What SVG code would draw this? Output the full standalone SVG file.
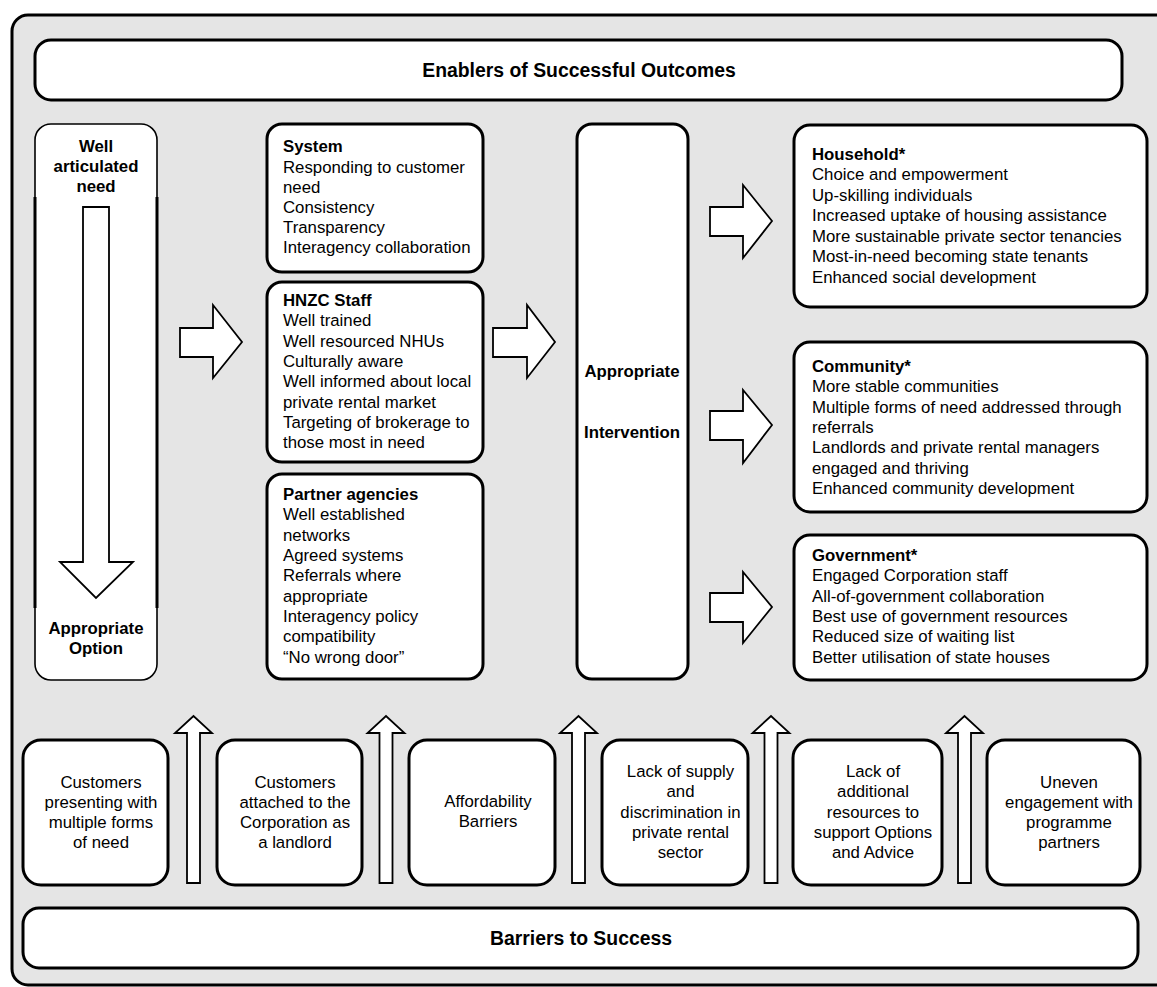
<svg xmlns="http://www.w3.org/2000/svg" width="1157" height="987" viewBox="0 0 1157 987">
<style>
.box{fill:#fff;stroke:#000;stroke-width:3}
.thin{fill:#fff;stroke:#000;stroke-width:1.6}
.arr{fill:#fff;stroke:#000;stroke-width:1.8;stroke-linejoin:miter}
text{font-family:"Liberation Sans",Arial,sans-serif;font-size:16.8px;fill:#000}
.b{font-weight:bold}
.h{font-weight:bold;font-size:19.4px}
.c{text-anchor:middle}
</style>
<rect x="12" y="15" width="1160" height="970" rx="16" fill="#e5e5e5" stroke="#000" stroke-width="3"/>
<g id="enablers"><rect class="box" x="35" y="40" width="1087" height="60" rx="16"/><text class="h c" x="579" y="77">Enablers of Successful Outcomes</text></g>
<g id="barriers"><rect class="box" x="23" y="908" width="1115" height="60" rx="16"/><text class="h c" x="581" y="945">Barriers to Success</text></g>
<g id="need-option">
<rect class="thin" x="35" y="124" width="122" height="556" rx="16"/>
<line x1="35" y1="197" x2="35" y2="608" stroke="#000" stroke-width="3"/>
<line x1="157" y1="197" x2="157" y2="608" stroke="#000" stroke-width="3"/>
<text class="b c" x="96" y="152">Well</text>
<text class="b c" x="96" y="172">articulated</text>
<text class="b c" x="96" y="192">need</text>
<text class="b c" x="96" y="634">Appropriate</text>
<text class="b c" x="96" y="654">Option</text>
</g>
<g id="system"><rect class="box" x="267" y="124" width="216" height="148" rx="15"/>
<text x="283" y="152" class="b">System</text>
<text x="283" y="173">Responding to customer</text>
<text x="283" y="193">need</text>
<text x="283" y="213">Consistency</text>
<text x="283" y="233">Transparency</text>
<text x="283" y="253">Interagency collaboration</text></g>
<g id="hnzc"><rect class="box" x="267" y="282" width="216" height="180" rx="15"/>
<text x="283" y="306" class="b">HNZC Staff</text>
<text x="283" y="326">Well trained</text>
<text x="283" y="347">Well resourced NHUs</text>
<text x="283" y="367">Culturally aware</text>
<text x="283" y="387">Well informed about local</text>
<text x="283" y="408">private rental market</text>
<text x="283" y="428">Targeting of brokerage to</text>
<text x="283" y="448">those most in need</text></g>
<g id="partners"><rect class="box" x="267" y="474" width="216" height="205" rx="15"/>
<text x="283" y="500" class="b">Partner agencies</text>
<text x="283" y="520">Well established</text>
<text x="283" y="541">networks</text>
<text x="283" y="561">Agreed systems</text>
<text x="283" y="581">Referrals where</text>
<text x="283" y="602">appropriate</text>
<text x="283" y="622">Interagency policy</text>
<text x="283" y="642">compatibility</text>
<text x="283" y="663">“No wrong door”</text></g>
<g id="intervention"><rect class="box" x="577" y="124" width="111" height="555" rx="15"/>
<text class="b c" x="632" y="377">Appropriate</text>
<text class="b c" x="632" y="438">Intervention</text></g>
<g id="household"><rect class="box" x="794" y="125" width="353" height="182" rx="16"/>
<text x="812" y="160" class="b">Household*</text>
<text x="812" y="180">Choice and empowerment</text>
<text x="812" y="201">Up-skilling individuals</text>
<text x="812" y="221">Increased uptake of housing assistance</text>
<text x="812" y="242">More sustainable private sector tenancies</text>
<text x="812" y="262">Most-in-need becoming state tenants</text>
<text x="812" y="283">Enhanced social development</text></g>
<g id="community"><rect class="box" x="794" y="342" width="353" height="170" rx="16"/>
<text x="812" y="372" class="b">Community*</text>
<text x="812" y="392">More stable communities</text>
<text x="812" y="413">Multiple forms of need addressed through</text>
<text x="812" y="433">referrals</text>
<text x="812" y="453">Landlords and private rental managers</text>
<text x="812" y="474">engaged and thriving</text>
<text x="812" y="494">Enhanced community development</text></g>
<g id="government"><rect class="box" x="794" y="535" width="353" height="145" rx="16"/>
<text x="812" y="561" class="b">Government*</text>
<text x="812" y="581">Engaged Corporation staff</text>
<text x="812" y="602">All-of-government collaboration</text>
<text x="812" y="622">Best use of government resources</text>
<text x="812" y="642">Reduced size of waiting list</text>
<text x="812" y="663">Better utilisation of state houses</text></g>
<g id="b1"><rect class="box" x="23" y="740" width="145" height="145" rx="18"/>
<text class="c" x="101" y="788">Customers</text><text class="c" x="101" y="808">presenting with</text><text class="c" x="101" y="828">multiple forms</text><text class="c" x="101" y="848">of need</text></g>
<g id="b2"><rect class="box" x="217" y="740" width="145" height="145" rx="18"/>
<text class="c" x="295" y="788">Customers</text><text class="c" x="295" y="808">attached to the</text><text class="c" x="295" y="828">Corporation as</text><text class="c" x="295" y="848">a landlord</text></g>
<g id="b3"><rect class="box" x="409" y="740" width="146" height="145" rx="18"/>
<text class="c" x="488" y="807">Affordability</text><text class="c" x="488" y="827">Barriers</text></g>
<g id="b4"><rect class="box" x="602" y="740" width="146" height="145" rx="18"/>
<text class="c" x="680.5" y="777">Lack of supply</text><text class="c" x="680.5" y="797">and</text><text class="c" x="680.5" y="818">discrimination in</text><text class="c" x="680.5" y="838">private rental</text><text class="c" x="680.5" y="858">sector</text></g>
<g id="b5"><rect class="box" x="793" y="740" width="149" height="145" rx="18"/>
<text class="c" x="873" y="777">Lack of</text><text class="c" x="873" y="797">additional</text><text class="c" x="873" y="818">resources to</text><text class="c" x="873" y="838">support Options</text><text class="c" x="873" y="858">and Advice</text></g>
<g id="b6"><rect class="box" x="987" y="740" width="153" height="145" rx="18"/>
<text class="c" x="1069" y="788">Uneven</text><text class="c" x="1069" y="808">engagement with</text><text class="c" x="1069" y="828">programme</text><text class="c" x="1069" y="848">partners</text></g>
<g id="connectors">
<polygon class="arr" points="83,207 109,207 109,562 133,562 96,598 60,562 83,562"/>
<polygon class="arr" points="180,328 213,328 213,305 242,342 213,378 213,357 180,357"/>
<polygon class="arr" points="493,328 527,328 527,305 555,342 527,378 527,357 493,357"/>
<polygon class="arr" points="710,207 743,207 743,185 772,221 743,258 743,236 710,236"/>
<polygon class="arr" points="710,411 743,411 743,390 772,425 743,463 743,440 710,440"/>
<polygon class="arr" points="710,593 743,593 743,572 772,607 743,643 743,622 710,622"/>
<polygon class="arr" points="187,883 187,733 175,733 193.5,716 212,733 200,733 200,883"/>
<polygon class="arr" points="379.5,883 379.5,733 367.5,733 386,716 404.5,733 392.5,733 392.5,883"/>
<polygon class="arr" points="572,883 572,733 560,733 578.5,716 597,733 585,733 585,883"/>
<polygon class="arr" points="764.5,883 764.5,733 752.5,733 771,716 789.5,733 777.5,733 777.5,883"/>
<polygon class="arr" points="958,883 958,733 946,733 964.5,716 983,733 971,733 971,883"/>
</g>
</svg>
